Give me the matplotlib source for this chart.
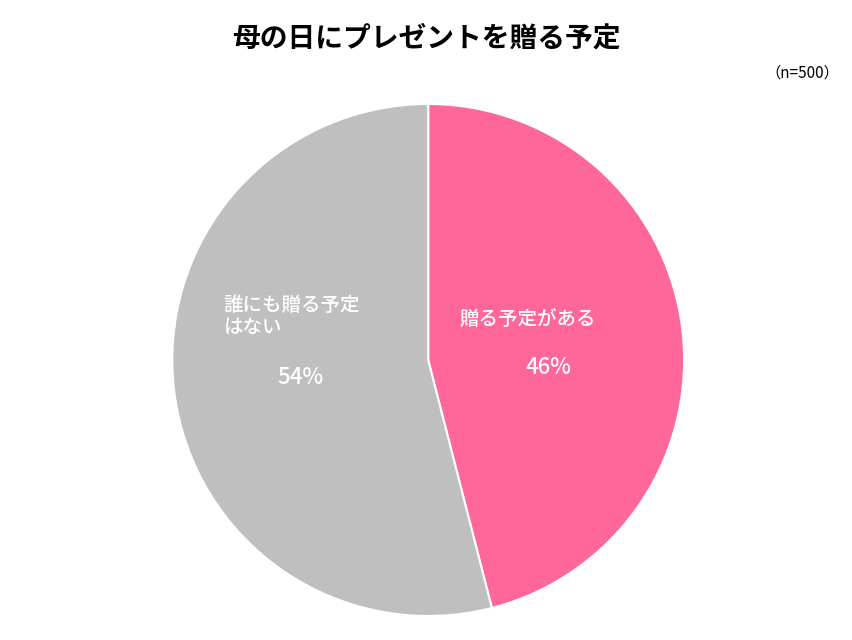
import matplotlib
matplotlib.use('Agg')
import matplotlib.pyplot as plt

plt.rcParams['font.family'] = ['Noto Sans CJK JP', 'DejaVu Sans']

# data
labels = ['贈る予定がある', '誰にも贈る予定\nはない']
values = [46, 54]
colors = ['#ff6699', '#bfbfbf']

fig = plt.figure(figsize=(8.53, 6.4), dpi=100)
ax = fig.add_axes([0.202, 0.0375, 0.600, 0.8])
ax.pie(values, colors=colors, startangle=90, counterclock=False,
       wedgeprops=dict(edgecolor='white', linewidth=1.5))
ax.set_xlim(-1, 1)
ax.set_ylim(-1, 1)
ax.set_aspect('auto')

# slice labels (axes data coords, radius 1)
ax.text(0.39, 0.16, labels[0], color='white', fontsize=14, fontweight='medium',
        ha='center', va='center')
ax.text(0.47, -0.03, f'{values[0]}%', color='white', fontsize=16, fontweight='medium',
        ha='center', va='center')
ax.text(-0.8, 0.17, labels[1], color='white', fontsize=14, fontweight='medium',
        ha='left', va='center', linespacing=1.25)
ax.text(-0.5, -0.07, f'{values[1]}%', color='white', fontsize=16, fontweight='medium',
        ha='center', va='center')

fig.text(0.5, 0.94, '母の日にプレゼントを贈る予定', fontsize=20, fontweight='bold',
         ha='center', va='center')
fig.text(0.94, 0.886, '（n=500）', fontsize=11, ha='center', va='center')

fig.savefig('out.png', dpi=100)
